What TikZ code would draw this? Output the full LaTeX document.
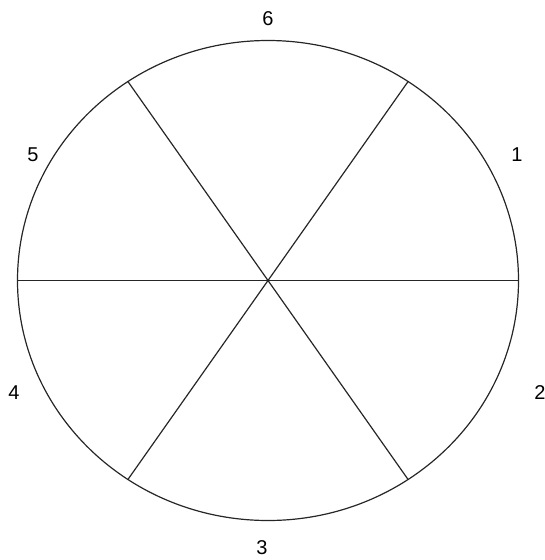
\documentclass[tikz,border=0pt]{standalone}
\usepackage{fontspec}
\setmainfont{Liberation Sans}
\usetikzlibrary{calc}
\begin{document}
\begin{tikzpicture}[x=1pt,y=-1pt,
  lbl/.style={font=\fontsize{20}{23}\selectfont, inner sep=0pt},
  edge/.style={draw=black!85, line width=1.2pt}]
\useasboundingbox (0,0) rectangle (545,560);
\coordinate (c) at (268,280.5);
\draw[edge] (c) ellipse [x radius=250.5, y radius=240];
\coordinate (p0) at ($(c)+(250.5,0)$);
\coordinate (p180) at ($(c)+(-250.5,0)$);
\coordinate (p56) at ($(c)+(56:250.5 and -240)$);
\coordinate (p236) at ($(c)+(236:250.5 and -240)$);
\coordinate (p124) at ($(c)+(124:250.5 and -240)$);
\coordinate (p304) at ($(c)+(304:250.5 and -240)$);
\draw[edge] (p180) -- (p0);
\draw[edge] (p56) -- (p236);
\draw[edge] (p124) -- (p304);
\node[lbl] (l6) at (268,19) {6};
\node[lbl] (l1) at (517,155) {1};
\node[lbl] (l5) at (33,155) {5};
\node[lbl] (l4) at (14,393) {4};
\node[lbl] (l2) at (540,393) {2};
\node[lbl] (l3) at (262,548) {3};
\end{tikzpicture}
\end{document}
